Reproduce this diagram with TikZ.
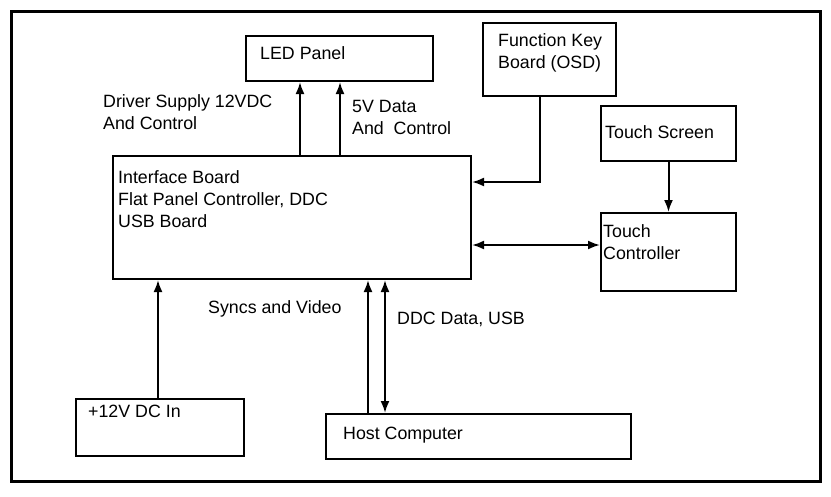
\documentclass[tikz,border=0pt]{standalone}
\usepackage{fontspec}
\setmainfont{Liberation Sans}
\usetikzlibrary{arrows.meta,positioning,calc}

\begin{document}
\begin{tikzpicture}[x=1pt, y=-1pt,
  blk/.style={draw, line width=2pt, anchor=north west, inner sep=0pt},
  txt/.style={font=\fontsize{17.8}{22}\selectfont, align=left, anchor=north west, inner sep=0pt},
  arr/.style={-{Latex[length=12pt,width=9pt]}, line width=2pt},
  darr/.style={{Latex[length=12pt,width=9pt]}-{Latex[length=12pt,width=9pt]}, line width=2pt}
]
\useasboundingbox (0,0) rectangle (831,496);
\draw[line width=3pt] (11,11) rectangle (820,481);

% blocks
\node[blk, minimum width=187pt, minimum height=45pt] (led) at (245,35) {};
\node[blk, minimum width=133pt, minimum height=73pt] (fkb) at (482,22) {};
\node[blk, minimum width=135pt, minimum height=55pt] (ts) at (600,105) {};
\node[blk, minimum width=135pt, minimum height=78pt] (tc) at (600,212) {};
\node[blk, minimum width=358pt, minimum height=123pt] (ifb) at (112,155) {};
\node[blk, minimum width=168pt, minimum height=57pt] (dcin) at (75,398) {};
\node[blk, minimum width=305pt, minimum height=45pt] (host) at (325,413) {};

% block texts
\node[txt] at (260,46) {LED Panel};
\node[txt] at (498,33) {Function Key\\Board (OSD)};
\node[txt] at (605,125) {Touch Screen};
\node[txt] at (603,224) {Touch\\Controller};
\node[txt] at (118,170) {Interface Board\\Flat Panel Controller, DDC\\USB Board};
\node[txt] at (88,405) {+12V DC In};
\node[txt] at (343,427) {Host Computer};

% labels
\node[txt] at (103,94) {Driver Supply 12VDC\\And Control};
\node[txt] at (352,100) {5V Data\\And\ \ Control};
\node[txt] at (208,300) {Syncs and Video};
\node[txt] at (397,312) {DDC Data, USB};

% connectors
\draw[arr] (ifb.north -| 300,0) -- (led.south -| 300,0);
\draw[arr] (ifb.north -| 340,0) -- (led.south -| 340,0);
\draw[arr] (fkb.south -| 540,0) |- (ifb.east |- 0,182);
\draw[arr] (ts.south) -- (tc.north -| ts.south);
\draw[darr] (ifb.east |- 0,245) -- (tc.west |- 0,245);
\draw[arr] (dcin.north -| 158,0) -- (ifb.south -| 158,0);
\draw[arr] (host.north -| 368,0) -- (ifb.south -| 368,0);
\draw[darr] (ifb.south -| 385,0) -- (host.north -| 385,0);
\end{tikzpicture}
\end{document}
